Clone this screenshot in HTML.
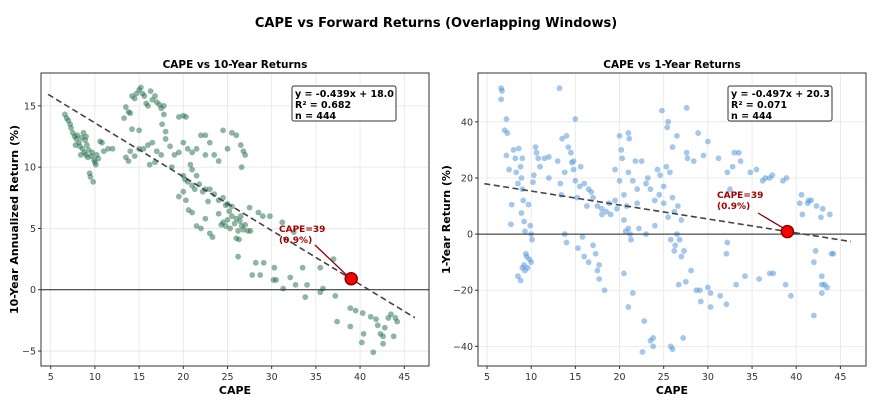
<!DOCTYPE html>
<html><head><meta charset="utf-8"><style>
body{margin:0;background:#fff;font-family:"Liberation Sans","DejaVu Sans",sans-serif}
svg text{font-family:"DejaVu Sans","Liberation Sans",sans-serif}
</style></head><body>
<svg id="root" width="872" height="410" viewBox="0 0 872 410">
<text x="436" y="27" text-anchor="middle" font-size="13" font-weight="bold">CAPE vs Forward Returns (Overlapping Windows)</text>
</svg>
<script>
// Left chart data (CAPE, 10-year annualized return %)
const capeLeft=[6.6,6.8,7.0,7.2,7.3,7.5,7.7,7.9,8.0,8.2,8.3,8.5,8.6,8.7,8.8,8.9,9.0,9.1,9.2,9.3,9.4,9.5,9.6,9.7,9.8,9.9,10.0,10.2,10.4,10.6,10.8,11.0,11.5,12.0,8.4,7.8,9.0,10.1,
13.3,13.5,13.8,14.0,14.2,14.5,14.7,15.0,15.2,15.4,15.6,15.8,16.0,16.3,16.5,16.8,17.0,17.3,17.5,17.8,17.6,17.8,14.2,15.0,16.5,16.0,15.5,14.0,13.5,13.8,14.5,15.0,17.0,17.5,18.0,18.5,18.0,19.0,18.7,16.8,16.2,
19.5,20.0,20.3,20.0,20.5,19.5,21,21.5,22,22.5,23,22.5,23.5,24,24.5,25.0,25.5,26,26.5,26.8,27.0,26.6,20.8,21,21.5,20.2,20,20.5,21,21.3,21.8,22.2,22.5,23,23.5,24,24.5,25,25.5,19.5,20,20.3,20.6,21,21.5,22,22.5,23,23.3,22.8,24.0,
24.3,24.5,24.8,25,25.3,25.5,25.8,26,26.2,26.4,26.6,26.8,27,27.3,27.6,26,26.3,27.5,28.5,29,29.8,26.2,25.2,24.8,26.5,
27.8,28.2,28.7,29.1,30.2,30.3,30.5,31.3,32.1,32.7,33.5,34.0,33.8,35.5,35.8,31.2,32.5,37.0,37.2,37.4,38.9,39.5,38.9,40.3,40.4,40.2,41.2,41.5,41.8,42.0,42.3,42.6,42.8,42.6,43.2,43.5,43.8,44.0,44.2,35.5];
const retLeft=[14.3,14.0,13.8,13.5,13.2,12.8,12.5,12.3,12.6,12.0,11.7,12.4,11.5,12.8,11.2,12.2,11.0,11.8,10.8,11.4,9.5,9.2,10.9,11.2,8.8,10.6,10.4,11.0,10.7,12.1,12.0,11.3,11.5,11.5,11.0,11.8,12.5,10.2,
14.0,14.9,14.5,14.4,15.8,15.6,16.0,16.3,16.5,16.0,15.8,15.2,15.0,16.2,15.5,15.8,15.3,15.1,14.8,15.0,13.5,14.3,13.1,13.0,12.0,11.8,11.5,11.3,10.8,10.5,10.9,11.5,11.3,11.0,12.3,11.7,12.9,11.0,10.0,10.4,10.2,
14.1,14.2,14.1,12.0,11.5,11.2,11.2,11.5,12.6,12.6,12.0,11.0,11.0,10.5,13.0,11.5,12.8,12.6,11.8,11.3,11.0,10.0,10.2,9.8,9.3,9.0,9.3,8.8,8.5,8.2,8.6,8.0,8.2,8.2,7.8,7.3,7.5,7.0,6.8,7.6,8.0,7.3,6.5,6.3,5.2,5.0,5.8,4.6,4.3,7.2,6.2,
5.3,5.5,5.2,5.7,5.0,6.0,5.4,5.8,4.8,5.6,5.2,4.9,5.3,4.8,4.8,4.2,4.1,6.7,6.3,6.0,6.0,2.7,6.4,6.9,6.0,
1.2,2.2,1.2,2.2,0.8,1.8,0.8,0.1,1.0,0.4,1.8,0.4,-0.6,1.8,0.1,5.5,4.7,2.5,-0.5,-2.6,-1.5,-1.7,-3.0,-1.9,-3.6,-4.3,-2.2,-5.1,-2.4,-2.9,-3.6,-3.8,-3.1,-4.4,-2.3,-2.0,-3.8,-2.3,-2.6,-0.2];
// Right chart data (CAPE, 1-year return %)
const capeRight=[6.6,6.7,6.6,7,7.2,7.3,7.2,7.5,7.8,7.7,8,8.2,8.3,8.5,8.6,8.8,8.9,9,9,9.1,8.9,9.2,9.3,9.4,9.5,9.2,9,8.5,8.8,9.3,9.6,9.7,9.8,10,10,10.1,9.9,10.3,10.5,10.6,10.8,10.2,11,11.5,12,12,13.2,13,13.3,13.4,13.5,13.8,14,14,13.8,14.2,14.5,14.6,14.8,15,15,14.8,15.2,15.3,15.5,15.6,15.8,16,16,16.3,16.5,16.5,16.8,17,17,17.3,17.5,17.5,17.7,17.7,18,18,18.3,18.5,18.8,19,19.5,19.5,19.7,20,20,20.2,20.3,20.5,20.5,20.8,20.5,20.7,21,21,21,21.1,21,21.2,21.3,21.5,21.5,21.8,22,22,22.2,22.5,22.8,22.6,23,23,23.2,23.5,23.5,23.8,23.8,24,24,24.3,24.5,24.6,24.8,25,25,25.3,25.4,25.5,25.5,25.7,25.8,25.8,26,26,26,26.2,26.2,26.3,26.5,26.6,26.5,26.7,26.8,27,27,27.2,27.3,27.5,27.6,27.6,27.7,28.1,28.4,28.7,28.9,29.1,29.5,29.2,30,30,30.3,30.3,31.2,31.4,32.2,32.2,32.1,32.1,32.5,32.8,33,33.2,33.5,33.7,34.2,34.8,35.5,35.8,36.2,36.5,37,37,37.3,37.4,38.5,38.8,38.9,39.4,40.4,40.6,40.7,41.3,41.4,41.7,42.0,42.0,42.3,42.2,42.8,42.9,42.9,43.2,42.9,43.5,43.8,44,44.2,43];
const retRight=[52,51,48,37,41,36,28,23,10.5,3.5,30,27,22,18,30.5,24,20,27,16,12,7.5,4.5,1,-7,-8,-11,-12,-15,-16.5,-13,-12,10.5,-9,-10,0,-2,3,21,31,29,27,18.5,24,27,27.5,20,52,26,18,14,34,22,35,-3,0,31,29,25.5,26,41,19,23,13,-5,17,24,-1,18,-8,10,16,-10,15,13,-4,-7,10,-13,-11,-16,9,7,-20,8,11,7,12,23,9,19,35,30,27,14,-14,10,5,1,2,-26,36,34,22,0,-2,19,-21,26,16,11,2,26,-31,-42,18,0,20,16,-38,-37,-40,12,3,23,14,21,44,11,17,24,38,40,6,22,-2,-40,-41,13,31,-6,8,-4,0,10,35,-18,-2,-8,5,-37,-6,-17,45,29,27,-13,26,-20,36,-20,28,-24,33,-19,-21,-26,27,-22,22,-3,-7,-25,16,24,29,-18,29,26,-15,22,23,-16,19,20,20,-14,21,-14,19,-18,20,-22,11,14,7,11,12,12,-10,-29,10,-6,6,-15,-18,-18,-21,-19,7,-7,-7,9];
const xTicks=[5,10,15,20,25,30,35,40,45];
const yTicksLeft=[-5,0,5,10,15];
const yTicksRight=[-40,-20,0,20,40];
const fitLeft=[-0.439,18.0];
const fitRight=[-0.497,20.3];
const statsLeft=["y = -0.439x + 18.0","R² = 0.682","n = 444"];
const statsRight=["y = -0.497x + 20.3","R² = 0.071","n = 444"];
const current=[39,0.9];

const NS="http://www.w3.org/2000/svg";
const root=document.getElementById('root');
function mk(tag,attrs,parent){const e=document.createElementNS(NS,tag);for(const k in attrs)e.setAttribute(k,attrs[k]);(parent||root).appendChild(e);return e;}

function drawChart(c){
  const g=mk('g',{});
  
  
  const X=v=>c.x0+(v-c.xmin)/(c.xmax-c.xmin)*(c.x1-c.x0);
  const Y=v=>c.y1-(v-c.ymin)/(c.ymax-c.ymin)*(c.y1-c.y0);
  // grid
  xTicks.forEach(t=>{const l=mk('line',{x1:X(t),x2:X(t),y1:c.y0,y2:c.y1,stroke:'#e6e6e6','stroke-width':0.8},g);
    });
  c.yt.forEach(t=>{const l=mk('line',{x1:c.x0,x2:c.x1,y1:Y(t),y2:Y(t),stroke:'#e6e6e6','stroke-width':0.8},g);
    });
  // points
  for(let i=0;i<c.xs.length;i++){const p=mk('circle',{cx:X(c.xs[i]),cy:Y(c.ys[i]),r:2.9,fill:c.color,'fill-opacity':0.5},g);
    }
  // zero line
  const z=mk('line',{x1:c.x0,x2:c.x1,y1:Y(0),y2:Y(0),stroke:'#222','stroke-width':1},g);
  
  // fit
  const fa=4.7,fb=46.2;
  const f=mk('line',{x1:X(fa),y1:Y(c.fit[0]*fa+c.fit[1]),x2:X(fb),y2:Y(c.fit[0]*fb+c.fit[1]),stroke:'#444','stroke-width':1.6,'stroke-dasharray':'6,3.5'},g);
  
  // annotation
  const ax=X(current[0]),ay=Y(current[1]);
  const ar=mk('line',{x1:c.arx,y1:c.ary,x2:ax-5,y2:ay-4,stroke:'#8b0000','stroke-width':1.3},g);
  
  const t1=mk('text',{x:c.tx,y:c.ty,'font-size':9,'font-weight':'bold',fill:'#a00000'},g);t1.textContent='CAPE=39';
  
  const t2=mk('text',{x:c.tx,y:c.ty+11,'font-size':9,'font-weight':'bold',fill:'#a00000'},g);t2.textContent='(0.9%)';
  
  const dot=mk('circle',{cx:ax,cy:ay,r:6,fill:'#ff0000',stroke:'#8b0000','stroke-width':1.5},g);
  
  // frame
  const fr=mk('rect',{x:c.x0,y:c.y0,width:c.x1-c.x0,height:c.y1-c.y0,fill:'none',stroke:'#333','stroke-width':1},g);
  
  // ticks
  xTicks.forEach(t=>{mk('line',{x1:X(t),x2:X(t),y1:c.y1,y2:c.y1+3,stroke:'#333'},g);
    const s=mk('text',{x:X(t),y:c.y1+14,'font-size':9.5,'text-anchor':'middle',fill:'#333'},g);s.textContent=t;
    });
  c.yt.forEach(t=>{mk('line',{x1:c.x0-3,x2:c.x0,y1:Y(t),y2:Y(t),stroke:'#333'},g);
    const s=mk('text',{x:c.x0-5,y:Y(t)+3.5,'font-size':9.5,'text-anchor':'end',fill:'#333'},g);s.textContent=t<0?'−'+(-t):t;
    });
  // titles
  const tt=mk('text',{x:(c.x0+c.x1)/2,y:68,'font-size':10.5,'font-weight':'bold','text-anchor':'middle'},g);tt.textContent=c.title;
  
  const xl=mk('text',{x:(c.x0+c.x1)/2,y:394,'font-size':11,'font-weight':'bold','text-anchor':'middle'},g);xl.textContent='CAPE';
  
  const yl=mk('text',{x:0,y:0,'font-size':11,'font-weight':'bold','text-anchor':'middle',transform:`translate(${c.ylx},${(c.y0+c.y1)/2}) rotate(-90)`},g);yl.textContent=c.ylabel;
  
  // stats box
  const b=mk('rect',{x:c.bx,y:86,width:104,height:35,rx:2,fill:'#fff',stroke:'#333','stroke-width':1},g);
  
  c.stats.forEach((s,i)=>{const e=mk('text',{x:c.bx+3,y:97+i*11,'font-size':9.5,'font-weight':'bold'},g);e.textContent=s;
    });
}
drawChart({name:'chart-10-year',x0:41,x1:429,y0:73,y1:366,xmin:3.9,xmax:47.8,ymin:-6.22,ymax:17.68,xs:capeLeft,ys:retLeft,yt:yTicksLeft,fit:fitLeft,color:'#1e6b47',
  title:'CAPE vs 10-Year Returns',ylabel:'10-Year Annualized Return (%)',ylx:18,stats:statsLeft,bx:292,tx:279,ty:232,arx:315,ary:245});
drawChart({name:'chart-1-year',x0:478,x1:866,y0:73,y1:366,xmin:3.98,xmax:47.9,ymin:-47.0,ymax:57.4,xs:capeRight,ys:retRight,yt:yTicksRight,fit:fitRight,color:'#4a8fd8',
  title:'CAPE vs 1-Year Returns',ylabel:'1-Year Return (%)',ylx:450,stats:statsRight,bx:728,tx:717,ty:198,arx:758,ary:213});
</script>
</body></html>
